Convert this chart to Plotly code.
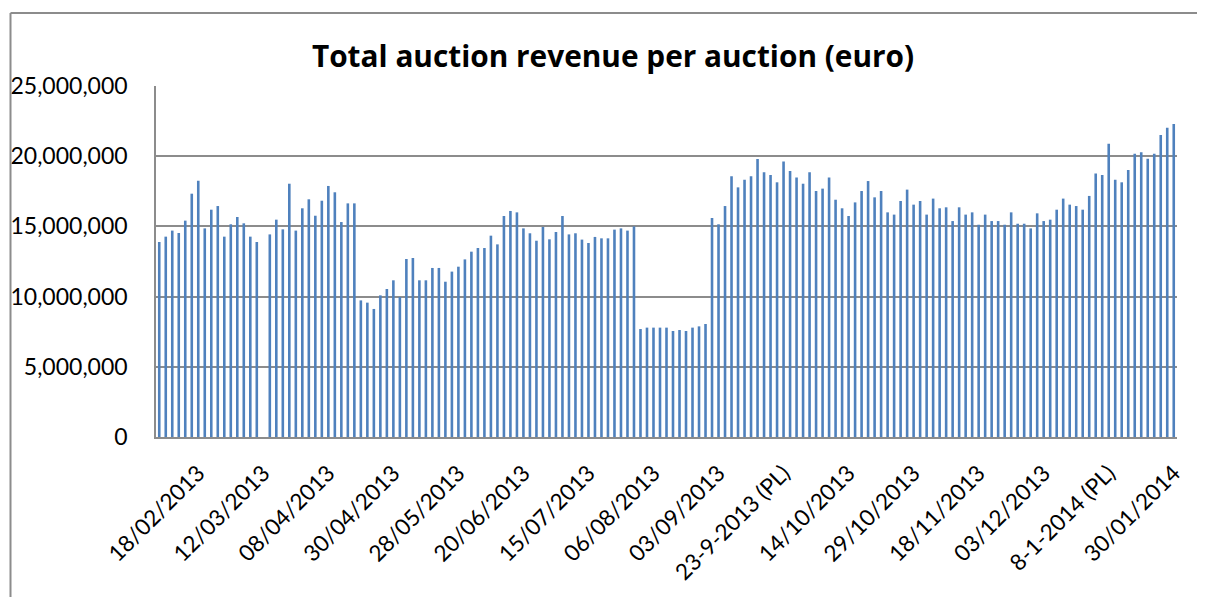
import plotly.graph_objects as go

# Revenue per auction, in millions of euro
revenue_m = [
    13.89, 14.27, 14.70, 14.53, 15.41, 17.33, 18.26, 14.86, 16.19, 16.45,
    14.27, 15.15, 15.67, 15.22, 14.27, 13.89, 0.0, 14.43, 15.48, 14.79,
    18.04, 14.70, 16.29, 16.93, 15.76, 16.83, 17.88, 17.43, 15.31, 16.64,
    16.64, 9.73, 9.57, 9.12, 10.09, 10.54, 11.16, 9.97, 12.68, 12.75,
    11.16, 11.16, 12.04, 12.04, 11.06, 11.78, 12.13, 12.65, 13.20, 13.46,
    13.46, 14.34, 13.72, 15.74, 16.10, 16.00, 14.86, 14.51, 13.98, 14.96,
    14.08, 14.60, 15.74, 14.43, 14.51, 14.06, 13.82, 14.25, 14.15, 14.15,
    14.77, 14.86, 14.70, 15.00, 7.69, 7.79, 7.79, 7.79, 7.79, 7.55,
    7.62, 7.55, 7.79, 7.88, 8.05, 15.60, 15.15, 16.45, 18.57, 17.78,
    18.33, 18.57, 19.80, 18.85, 18.66, 18.14, 19.63, 18.95, 18.49, 18.04,
    18.85, 17.52, 17.69, 18.49, 16.90, 16.29, 15.74, 16.71, 17.52, 18.23,
    17.07, 17.52, 16.00, 15.84, 16.81, 17.62, 16.55, 16.81, 15.84, 16.98,
    16.29, 16.36, 15.38, 16.36, 15.84, 16.00, 15.12, 15.84, 15.38, 15.38,
    15.12, 16.00, 15.19, 15.19, 14.86, 15.93, 15.38, 15.48, 16.19, 16.98,
    16.55, 16.45, 16.19, 17.17, 18.76, 18.66, 20.89, 18.33, 18.14, 19.02,
    20.18, 20.28, 19.82, 20.18, 21.51, 22.03, 22.29,
]
auction_index = list(range(1, len(revenue_m) + 1))
revenue = [v * 1_000_000 for v in revenue_m]

tick_positions = [7, 17, 27, 37, 47, 57, 67, 77, 87, 97, 107, 117, 127, 137, 147, 157]
tick_labels = [
    "18/02/2013", "12/03/2013", "08/04/2013", "30/04/2013", "28/05/2013",
    "20/06/2013", "15/07/2013", "06/08/2013", "03/09/2013", "23-9-2013 (PL)",
    "14/10/2013", "29/10/2013", "18/11/2013", "03/12/2013", "8-1-2014 (PL)",
    "30/01/2014",
]
y_ticks = [0, 5_000_000, 10_000_000, 15_000_000, 20_000_000, 25_000_000]

FONT = "Lato, 'Open Sans', sans-serif"
TITLE_FONT = "'Open Sans', Lato, sans-serif"

# The page body has an 8px margin; compensate so the picture lands where the
# reference has it in the 1205x597 window.
OFF = 8
WIN_W, WIN_H = 1205, 597
W, H = WIN_W - OFF, WIN_H - OFF
# plot area in window pixels
PX0, PX1, PY0, PY1 = 156, 1177, 86, 437
L, R, T, B = PX0 - OFF, W + OFF - PX1, PY0 - OFF, H + OFF - PY1
pw, ph = PX1 - PX0, PY1 - PY0


def px_x(px):
    return (px - PX0) / pw


def px_y(py):
    return (PY1 - py) / ph


fig = go.Figure()
fig.add_trace(go.Bar(
    x=auction_index, y=revenue,
    marker=dict(color="#4F81BD", line=dict(width=0)),
    hovertemplate="%{y:,}<extra></extra>",
))

fig.update_layout(
    width=W, height=H,
    margin=dict(l=L, r=R, t=T, b=B, autoexpand=False),
    paper_bgcolor="white", plot_bgcolor="white",
    bargap=0.6,
    showlegend=False,
    font=dict(family=FONT, size=23, color="#000000"),
    title=dict(
        text="<b>Total auction revenue per auction (euro)</b>",
        x=(613 - OFF) / W, xanchor="center", y=1 - (57 - OFF) / H, yanchor="middle",
        font=dict(family=TITLE_FONT, size=29.8, color="#000000"),
    ),
    xaxis=dict(
        range=[0.5, len(revenue_m) + 0.5],
        tickmode="array", tickvals=tick_positions, ticktext=tick_labels,
        tickangle=-45, showgrid=False, zeroline=False,
        showline=True, linecolor="#8c8c8c", linewidth=2,
        ticks="", ticklabelstandoff=12, automargin=False,
        tickfont=dict(family=FONT, size=22.5, color="#000000"),
    ),
    yaxis=dict(
        range=[0, 25_000_000], tickmode="array", tickvals=y_ticks,
        tickformat=",", showgrid=True, gridcolor="#8c8c8c", gridwidth=1.5,
        zeroline=False, showline=True, linecolor="#8c8c8c", linewidth=1.5,
        ticks="", ticklabelstandoff=22, automargin=False,
        tickfont=dict(family=FONT, size=23, color="#000000"),
    ),
    shapes=[
        dict(type="line", xref="paper", yref="paper",
             x0=px_x(10.5), x1=px_x(10.5), y0=px_y(13), y1=px_y(610),
             line=dict(color="#8c8c8c", width=2)),
        dict(type="line", xref="paper", yref="paper",
             x0=px_x(10.5), x1=px_x(1215), y0=px_y(13), y1=px_y(13),
             line=dict(color="#8c8c8c", width=2)),
    ],
)

fig.write_html("out.html")
